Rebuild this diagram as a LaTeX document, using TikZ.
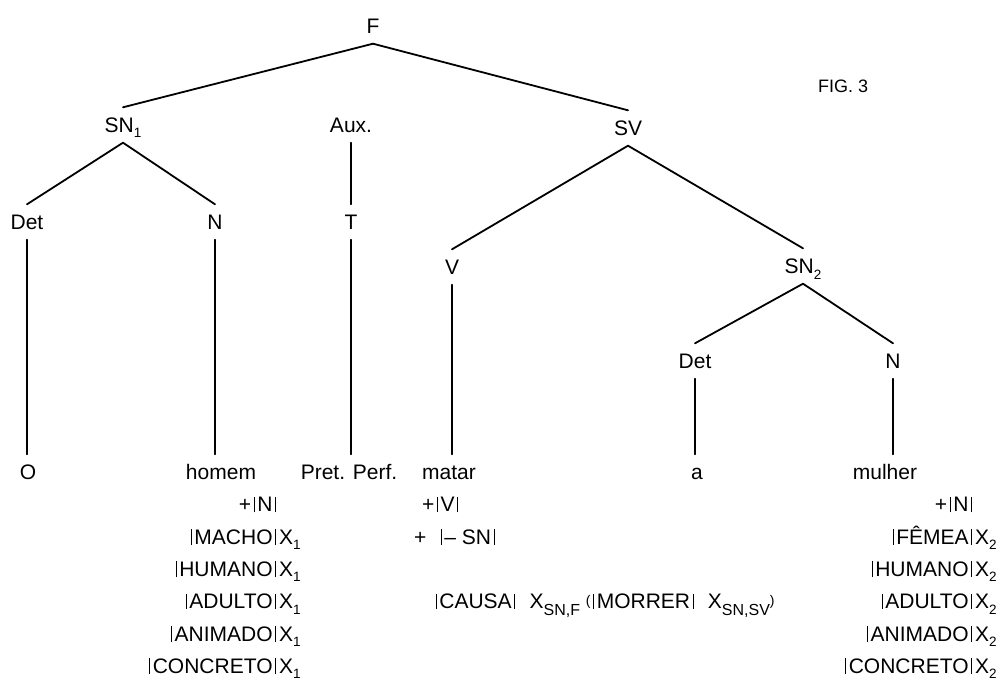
\documentclass[tikz,border=0pt]{standalone}
\usepackage{fontspec}
\setmainfont{Liberation Sans}
\newcommand{\vb}{\kern2.6pt\rule[-0.5pt]{1pt}{15.5pt}\kern2.6pt}
\newcommand{\smp}[1]{\raisebox{3pt}{\fontsize{14}{14}\selectfont #1}}
\newcommand{\dsub}[1]{\raisebox{-5.5pt}{\fontsize{13.5}{14}\selectfont #1}}
\newcommand{\lsub}[1]{\raisebox{-7pt}{\fontsize{16}{16}\selectfont #1}}
\begin{document}
\begin{tikzpicture}[x=1pt,y=-1pt,
  lab/.style={font=\fontsize{21}{25}\selectfont, inner xsep=0pt, inner ysep=10pt, text height=15pt, text depth=0pt},
  featE/.style={font=\fontsize{21}{25}\selectfont, inner sep=0pt, anchor=base east},
  featW/.style={font=\fontsize{21}{25}\selectfont, inner sep=0pt, anchor=base west},
  edge/.style={line width=1.8pt, line cap=round}]
\useasboundingbox (0,0) rectangle (1003,682);

% tree labels
\node[lab] (F) at (373,26) {F};
\node[lab] (SN1) at (123,125) {SN\dsub{1}};
\node[lab] (Aux) at (351,125) {Aux.};
\node[lab] (SV) at (628,128) {SV};
\node[font=\fontsize{18}{20}\selectfont, inner sep=0pt] (fig) at (843,86) {FIG. 3};
\node[lab] (Det1) at (27,222) {Det};
\node[lab] (N1) at (215,222) {N};
\node[lab] (T) at (351,222) {T};
\node[lab] (V) at (452,267) {V};
\node[lab] (SN2) at (803,266) {SN\dsub{2}};
\node[lab] (Det2) at (695,361) {Det};
\node[lab] (N2) at (893,361) {N};

% terminals
\node[lab] (O) at (28,472) {O};
\node[lab] (homem) at (221,472) {homem};
\node[lab] (pret) at (349,472) {Pret. Perf.};
\node[lab] (matar) at (449,472) {matar};
\node[lab] (a) at (697,472) {a};
\node[lab] (mulher) at (885,472) {mulher};

% edges
\draw[edge] (F.south) -- (SN1.north);
\draw[edge] (F.south) -- (SV.north);
\draw[edge] (Aux.south) -- (T.north);
\draw[edge] (SN1.south) -- (Det1.north);
\draw[edge] (SN1.south) -- (N1.north);
\draw[edge] (SV.south) -- (V.north);
\draw[edge] (SV.south) -- (SN2.north);
\draw[edge] (SN2.south) -- (Det2.north);
\draw[edge] (SN2.south) -- (N2.north);
\draw[edge] (Det1.south) -- (Det1.south |- O.north);
\draw[edge] (N1.south) -- (N1.south |- homem.north);
\draw[edge] (T.south) -- (T.south |- pret.north);
\draw[edge] (V.south) -- (V.south |- matar.north);
\draw[edge] (Det2.south) -- (Det2.south |- a.north);
\draw[edge] (N2.south) -- (N2.south |- mulher.north);

% left feature list (homem)
\node[featE] (hN) at (279,511.8) {+\vb N\vb};
\node[featE] (h1) at (279,544.1) {\vb MACHO\vb};
\node[featW] (h1x) at (h1.base east) {X\dsub{1}};
\node[featE] (h2) at (279,576.4) {\vb HUMANO\vb};
\node[featW] (h2x) at (h2.base east) {X\dsub{1}};
\node[featE] (h3) at (279,608.7) {\vb ADULTO\vb};
\node[featW] (h3x) at (h3.base east) {X\dsub{1}};
\node[featE] (h4) at (279,641.0) {\vb ANIMADO\vb};
\node[featW] (h4x) at (h4.base east) {X\dsub{1}};
\node[featE] (h5) at (279,673.3) {\vb CONCRETO\vb};
\node[featW] (h5x) at (h5.base east) {X\dsub{1}};

% middle feature list (matar)
\node[featW] (mV) at (422,511.8) {+\vb V\vb};
\node[featW] (mSN) at (414,544.1) {+\ \ \vb{}– SN\vb};
\node[featW] (mC) at (433,608.7) {\vb CAUSA\vb\ \ X\lsub{SN,F} \smp{(}\vb MORRER\vb\ \ X\lsub{SN,SV}\smp{)}};

% right feature list (mulher)
\node[featE] (wN) at (975,511.8) {+\vb N\vb};
\node[featE] (w1) at (975,544.1) {\vb FÊMEA\vb};
\node[featW] (w1x) at (w1.base east) {X\dsub{2}};
\node[featE] (w2) at (975,576.4) {\vb HUMANO\vb};
\node[featW] (w2x) at (w2.base east) {X\dsub{2}};
\node[featE] (w3) at (975,608.7) {\vb ADULTO\vb};
\node[featW] (w3x) at (w3.base east) {X\dsub{2}};
\node[featE] (w4) at (975,641.0) {\vb ANIMADO\vb};
\node[featW] (w4x) at (w4.base east) {X\dsub{2}};
\node[featE] (w5) at (975,673.3) {\vb CONCRETO\vb};
\node[featW] (w5x) at (w5.base east) {X\dsub{2}};
\end{tikzpicture}
\end{document}
